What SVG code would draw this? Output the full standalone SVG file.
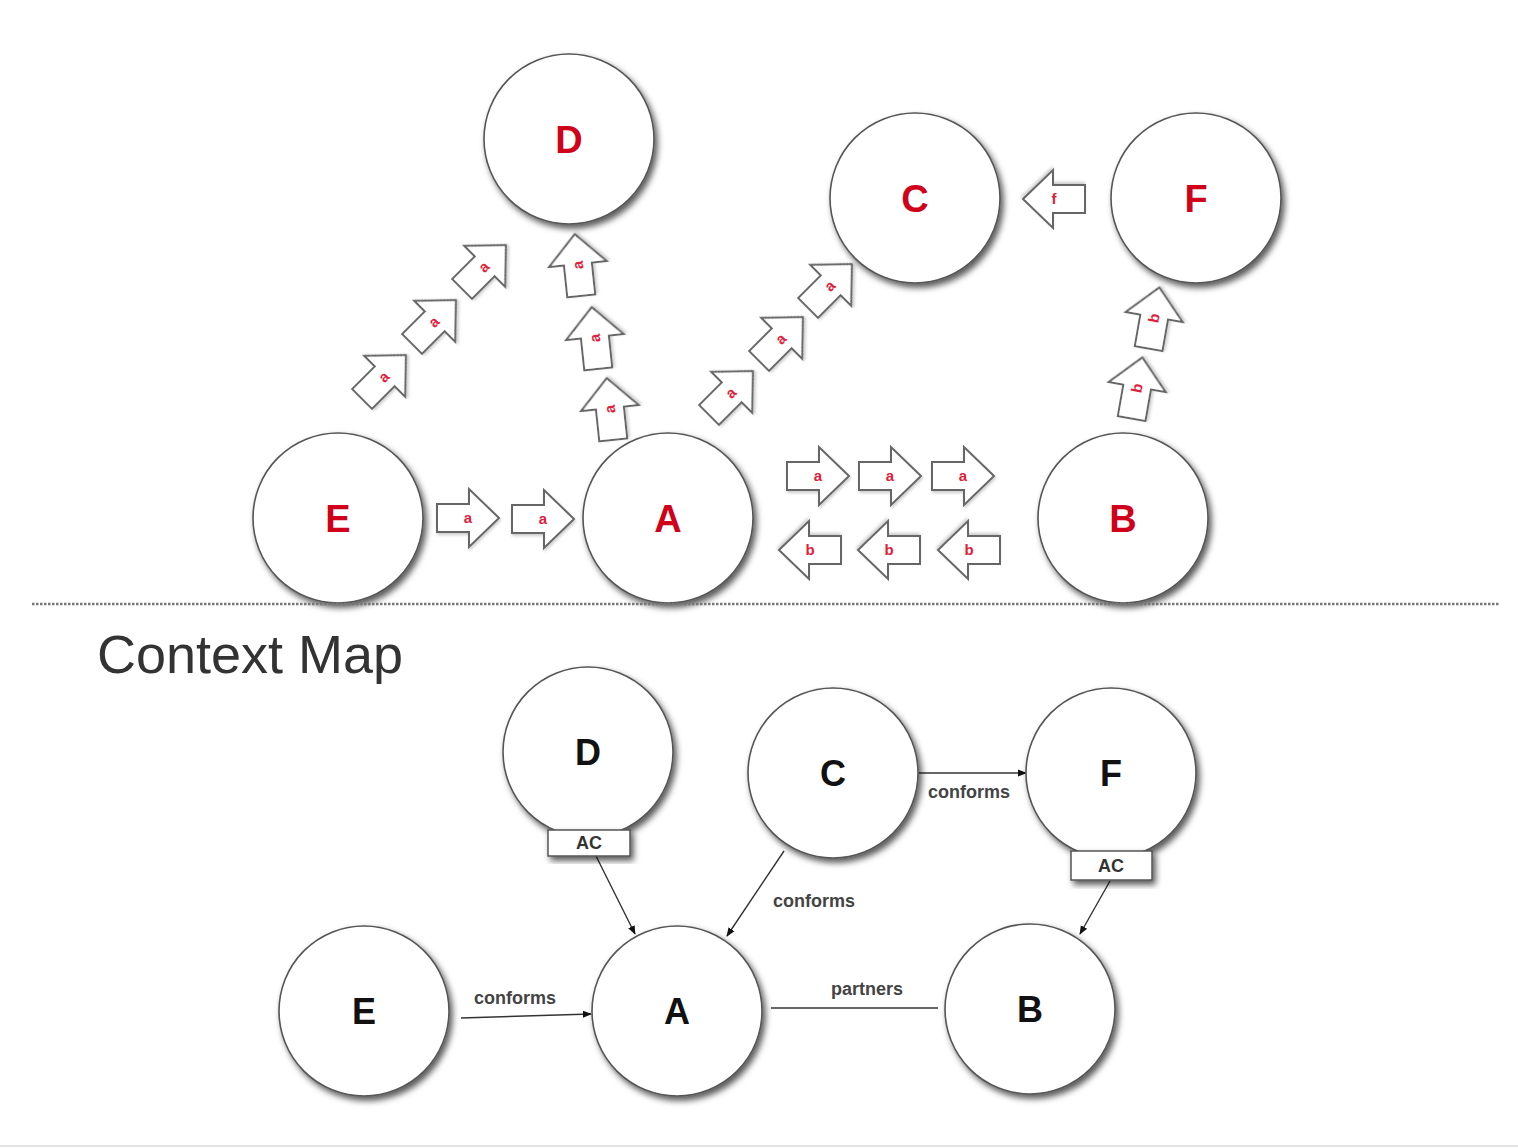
<svg xmlns="http://www.w3.org/2000/svg" xmlns:xlink="http://www.w3.org/1999/xlink" width="1518" height="1148" viewBox="0 0 1518 1148">
<style>
.node{fill:#fff;stroke:#555;stroke-width:1.6;filter:url(#sh)}
.rl{font-family:"Liberation Sans",Arial,sans-serif;font-weight:bold;font-size:38px;fill:#d0021b;text-anchor:middle}
.bl{font-family:"Liberation Sans",Arial,sans-serif;font-weight:bold;font-size:36px;fill:#111;text-anchor:middle}
.ba{fill:#fff;stroke:#666;stroke-width:2;filter:url(#sh2)}
.bt{font-family:"Liberation Sans",Arial,sans-serif;font-weight:bold;font-size:15px;fill:#e0203a;text-anchor:middle}
.ac{fill:#fff;stroke:#555;stroke-width:1.5;filter:url(#sh)}
.act{font-family:"Liberation Sans",Arial,sans-serif;font-weight:bold;font-size:18px;fill:#333;text-anchor:middle}
.ln{stroke:#333;stroke-width:1.4;fill:none}
.lab{font-family:"Liberation Sans",Arial,sans-serif;font-weight:bold;font-size:18px;fill:#444;text-anchor:middle}
</style>
<defs>
<filter id="sh" x="-20%" y="-20%" width="150%" height="150%">
<feDropShadow dx="3" dy="4" stdDeviation="3" flood-color="#000" flood-opacity="0.65"/>
</filter>
<filter id="sh2" x="-20%" y="-20%" width="150%" height="150%">
<feDropShadow dx="1" dy="2" stdDeviation="1.5" flood-color="#000" flood-opacity="0.2"/>
</filter>
<path id="blk" d="M-31,-14 H1 V-29 L31,0 L1,29 V14 H-31 Z"/>
<marker id="ah" viewBox="0 0 10 10" refX="9" refY="5" markerWidth="9" markerHeight="9" orient="auto" markerUnits="userSpaceOnUse">
<path d="M0,1 L10,5 L0,9 Z" fill="#111"/>
</marker>
</defs>
<rect width="1518" height="1148" fill="#fff"/>
<line x1="0" y1="1146" x2="1518" y2="1146" stroke="#e4e4e4" stroke-width="2"/>

<!-- top section nodes -->
<g id="top-D"><circle class="node" cx="569" cy="139" r="85"/><text class="rl" x="569" y="153">D</text></g>
<g id="top-C"><circle class="node" cx="915" cy="198" r="85"/><text class="rl" x="915" y="212">C</text></g>
<g id="top-F"><circle class="node" cx="1196" cy="198" r="85"/><text class="rl" x="1196" y="212">F</text></g>
<g id="top-E"><circle class="node" cx="338" cy="518" r="85"/><text class="rl" x="338" y="532">E</text></g>
<g id="top-A"><circle class="node" cx="668" cy="518" r="85"/><text class="rl" x="668" y="532">A</text></g>
<g id="top-B"><circle class="node" cx="1123" cy="518" r="85"/><text class="rl" x="1123" y="532">B</text></g>

<!-- top block arrows -->
<g id="top-connectors">
<g transform="translate(468,518)"><use href="#blk" class="ba"/><text class="bt" x="0" y="5">a</text></g>
<g transform="translate(543,519)"><use href="#blk" class="ba"/><text class="bt" x="0" y="5">a</text></g>
<g transform="translate(818,476)"><use href="#blk" class="ba"/><text class="bt" x="0" y="5">a</text></g>
<g transform="translate(890,476)"><use href="#blk" class="ba"/><text class="bt" x="0" y="5">a</text></g>
<g transform="translate(963,476)"><use href="#blk" class="ba"/><text class="bt" x="0" y="5">a</text></g>
<g transform="translate(810,550) rotate(180)"><use href="#blk" class="ba"/><text class="bt" x="0" y="5" transform="rotate(180)">b</text></g>
<g transform="translate(889,550) rotate(180)"><use href="#blk" class="ba"/><text class="bt" x="0" y="5" transform="rotate(180)">b</text></g>
<g transform="translate(969,550) rotate(180)"><use href="#blk" class="ba"/><text class="bt" x="0" y="5" transform="rotate(180)">b</text></g>
<g transform="translate(1054,199) rotate(180)"><use href="#blk" class="ba"/><text class="bt" x="0" y="5" transform="rotate(180)">f</text></g>
<g transform="translate(384,377) rotate(-45)"><use href="#blk" class="ba"/><text class="bt" x="0" y="5">a</text></g>
<g transform="translate(434,322) rotate(-45)"><use href="#blk" class="ba"/><text class="bt" x="0" y="5">a</text></g>
<g transform="translate(484,267) rotate(-45)"><use href="#blk" class="ba"/><text class="bt" x="0" y="5">a</text></g>
<g transform="translate(731,393) rotate(-45)"><use href="#blk" class="ba"/><text class="bt" x="0" y="5">a</text></g>
<g transform="translate(781,339) rotate(-45)"><use href="#blk" class="ba"/><text class="bt" x="0" y="5">a</text></g>
<g transform="translate(830,286) rotate(-45)"><use href="#blk" class="ba"/><text class="bt" x="0" y="5">a</text></g>
<g transform="translate(578,265) rotate(-96)"><use href="#blk" class="ba"/><text class="bt" x="0" y="5">a</text></g>
<g transform="translate(595,338) rotate(-96)"><use href="#blk" class="ba"/><text class="bt" x="0" y="5">a</text></g>
<g transform="translate(610,409) rotate(-96)"><use href="#blk" class="ba"/><text class="bt" x="0" y="5">a</text></g>
<g transform="translate(1137,388) rotate(-80)"><use href="#blk" class="ba"/><text class="bt" x="0" y="5">b</text></g>
<g transform="translate(1154,318) rotate(-80)"><use href="#blk" class="ba"/><text class="bt" x="0" y="5">b</text></g>
</g>

<!-- divider -->
<line x1="32" y1="604" x2="1500" y2="604" stroke="#777" stroke-width="2.5" stroke-dasharray="2.5,1.5"/>
<text x="97" y="673" font-family="'Liberation Sans',Arial,sans-serif" font-size="54" fill="#333">Context Map</text>

<!-- bottom connectors -->
<g id="connectors">
<line class="ln" x1="596" y1="856" x2="635" y2="934" marker-end="url(#ah)"/>
<line class="ln" x1="784" y1="851" x2="727" y2="936" marker-end="url(#ah)"/>
<line class="ln" x1="919" y1="773" x2="1026" y2="773" marker-end="url(#ah)"/>
<line class="ln" x1="1110" y1="881" x2="1080" y2="934" marker-end="url(#ah)"/>
<line class="ln" x1="461" y1="1018" x2="591" y2="1014" marker-end="url(#ah)"/>
<line class="ln" x1="771" y1="1008" x2="938" y2="1008"/>
<text class="lab" x="969" y="798">conforms</text>
<text class="lab" x="814" y="907">conforms</text>
<text class="lab" x="515" y="1004">conforms</text>
<text class="lab" x="867" y="995">partners</text>
</g>

<!-- bottom nodes -->
<g id="D"><circle class="node" cx="588" cy="752" r="85"/><rect class="ac" x="548" y="830" width="82" height="26"/><text class="act" x="589" y="849">AC</text><text class="bl" x="588" y="765">D</text></g>
<g id="C"><circle class="node" cx="833" cy="773" r="85"/><text class="bl" x="833" y="786">C</text></g>
<g id="F"><circle class="node" cx="1111" cy="773" r="85"/><rect class="ac" x="1071" y="851" width="81" height="29"/><text class="act" x="1111" y="872">AC</text><text class="bl" x="1111" y="786">F</text></g>
<g id="E"><circle class="node" cx="364" cy="1011" r="85"/><text class="bl" x="364" y="1024">E</text></g>
<g id="A"><circle class="node" cx="677" cy="1011" r="85"/><text class="bl" x="677" y="1024">A</text></g>
<g id="B"><circle class="node" cx="1030" cy="1009" r="85"/><text class="bl" x="1030" y="1022">B</text></g>
</svg>
